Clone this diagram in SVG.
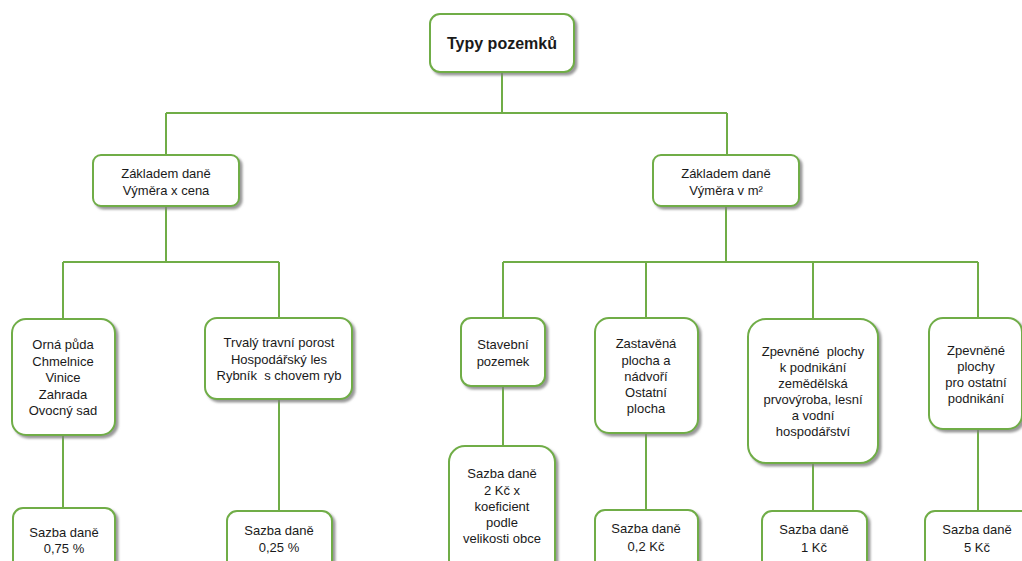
<svg xmlns="http://www.w3.org/2000/svg" width="1022" height="561" viewBox="0 0 1022 561">
<defs>
<filter id="sh" x="-10%" y="-10%" width="130%" height="130%">
<feDropShadow dx="2.5" dy="2.5" stdDeviation="1.2" flood-color="#7f7f7f" flood-opacity="0.8"/>
</filter>
<style>
.box{fill:#fff;stroke:#70ad47;stroke-width:2;filter:url(#sh)}
.t{font-family:"Liberation Sans",Arial,sans-serif;font-size:13px;fill:#1a1a1a;text-anchor:middle}
.b{font-weight:bold;font-size:16px}
.c{fill:none;stroke:#70ad47;stroke-width:2}
</style>
</defs>
<rect width="1022" height="561" fill="#fff"/>
<g id="connectors" class="c">
<path d="M502,72V113M166,113H727M166,113V155M727,113V155"/>
<path d="M166,206V262M63,262H279M63,262V319M279,262V318"/>
<path d="M726,206V262M503,262H978M503,262V318M646,262V318M813,262V319M978,262V318"/>
<path d="M63,435V508M279,399V511M503,386V446M646,433V510M813,463V511M978,429V511"/>
</g>
<g id="root"><rect class="box" x="430" y="14" width="144" height="58" rx="10"/>
<text class="t b" x="502" y="49">Typy pozemků</text></g>
<g id="base-cena"><rect class="box" x="93" y="155" width="146" height="51" rx="8"/>
<text class="t" x="166" y="178">Základem daně</text><text class="t" x="166" y="195">Výměra x cena</text></g>
<g id="base-m2"><rect class="box" x="653" y="155" width="146" height="51" rx="8"/>
<text class="t" x="726" y="178">Základem daně</text><text class="t" x="726" y="195">Výměra v m²</text></g>
<g id="orna"><rect class="box" x="12" y="319" width="103" height="116" rx="14"/>
<text class="t" x="63" y="349">Orná půda</text><text class="t" x="63" y="365.5">Chmelnice</text><text class="t" x="63" y="382">Vinice</text><text class="t" x="63" y="398.5">Zahrada</text><text class="t" x="63" y="415">Ovocný sad</text></g>
<g id="trvaly"><rect class="box" x="205" y="318" width="147" height="81" rx="12"/>
<text class="t" x="279" y="347">Trvalý travní porost</text><text class="t" x="279" y="363.5">Hospodářský les</text><text class="t" x="279" y="380" xml:space="preserve">Rybník  s chovem ryb</text></g>
<g id="stavebni"><rect class="box" x="461" y="318" width="84" height="68" rx="10"/>
<text class="t" x="503" y="349">Stavební</text><text class="t" x="503" y="366">pozemek</text></g>
<g id="zastavena"><rect class="box" x="595" y="318" width="103" height="115" rx="14"/>
<text class="t" x="646" y="348">Zastavěná</text><text class="t" x="646" y="364.5">plocha a</text><text class="t" x="646" y="381">nádvoří</text><text class="t" x="646" y="397">Ostatní</text><text class="t" x="646" y="413">plocha</text></g>
<g id="zpevnene-zem"><rect class="box" x="748" y="319" width="130" height="144" rx="18"/>
<text class="t" x="813" y="356" xml:space="preserve">Zpevněné  plochy</text><text class="t" x="813" y="372">k podnikání</text><text class="t" x="813" y="388">zemědělská</text><text class="t" x="813" y="404">prvovýroba, lesní</text><text class="t" x="813" y="420">a vodní</text><text class="t" x="813" y="436">hospodářství</text></g>
<g id="zpevnene-ost"><rect class="box" x="929" y="318" width="93" height="111" rx="14"/>
<text class="t" x="976" y="354.5">Zpevněné</text><text class="t" x="976" y="370.5">plochy</text><text class="t" x="976" y="386.5">pro ostatní</text><text class="t" x="976" y="402.5">podnikání</text></g>
<g id="sazba-075"><rect class="box" x="13" y="508" width="102" height="70" rx="10"/>
<text class="t" x="64" y="537">Sazba daně</text><text class="t" x="64" y="553">0,75 %</text></g>
<g id="sazba-025"><rect class="box" x="227" y="511" width="105" height="70" rx="10"/>
<text class="t" x="279" y="535">Sazba daně</text><text class="t" x="279" y="552">0,25 %</text></g>
<g id="sazba-2kc"><rect class="box" x="449" y="446" width="106" height="130" rx="16"/>
<text class="t" x="502" y="478">Sazba daně</text><text class="t" x="502" y="494.5">2 Kč x</text><text class="t" x="502" y="511">koeficient</text><text class="t" x="502" y="527">podle</text><text class="t" x="502" y="543">velikosti obce</text></g>
<g id="sazba-02"><rect class="box" x="595" y="510" width="103" height="70" rx="10"/>
<text class="t" x="646" y="533">Sazba daně</text><text class="t" x="646" y="551">0,2 Kč</text></g>
<g id="sazba-1"><rect class="box" x="762" y="511" width="105" height="70" rx="10"/>
<text class="t" x="814" y="534">Sazba daně</text><text class="t" x="814" y="552">1 Kč</text></g>
<g id="sazba-5"><rect class="box" x="925" y="511" width="110" height="70" rx="10"/>
<text class="t" x="977" y="534">Sazba daně</text><text class="t" x="977" y="552">5 Kč</text></g>
</svg>
